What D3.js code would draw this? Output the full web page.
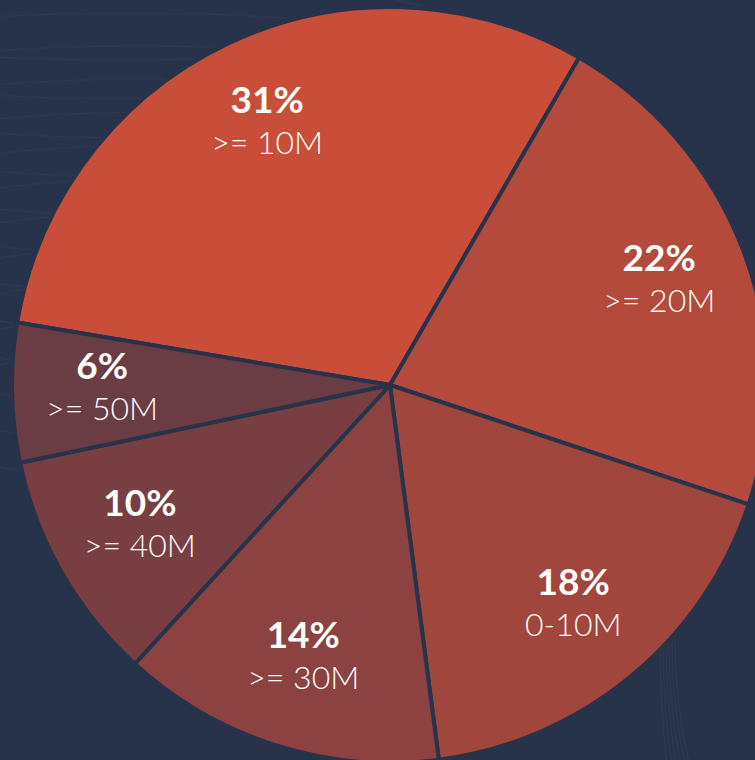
<!DOCTYPE html>
<html>
<head>
<meta charset="utf-8">
<script src="https://cdn.jsdelivr.net/npm/d3@7"></script>
<style>
    html, body { margin: 0; padding: 0; background: #27334a; }
    svg { display: block; }
    .pct { font-family: Lato, "Open Sans", sans-serif; font-weight: 700; fill: #fff; }
    .lbl { font-family: Lato, "Open Sans", sans-serif; font-weight: 300; fill: #fff; }
</style>
</head>
<body>
<div id="chart"></div>
<script>
'use strict';

// Data (clockwise from the top-left slice)
const categories = ['>= 10M', '>= 20M', '0-10M', '>= 30M', '>= 40M', '>= 50M'];
const shares = [31, 22, 18, 14, 10, 6];
const sliceColors = ['#c84e3a', '#b34a3c', '#a1463d', '#8b4240', '#793e42', '#6a3c44'];

// Layout
const W = 755, H = 760;
const cx = 390, cy = 385;
const r = 378;
const labelR = 288;

const svg = d3.select('#chart')
    .append('svg')
    .attr('width', W)
    .attr('height', H);

svg.append('rect')
    .attr('width', W)
    .attr('height', H)
    .attr('fill', '#27334a');

// Faint background curves
const deco = svg.append('g')
    .attr('fill', 'none')
    .attr('stroke', '#ffffff')
    .attr('stroke-opacity', 0.03)
    .attr('stroke-width', 1.5);
d3.range(12).forEach(i => {
    deco.append('ellipse')
        .attr('cx', 120 + i * 10)
        .attr('cy', 20 + i * 36)
        .attr('rx', 320)
        .attr('ry', 40 + i * 3);
});
d3.range(6).forEach(i => {
    deco.append('ellipse')
        .attr('cx', 720 + i * 15)
        .attr('cy', 640)
        .attr('rx', 60 + i * 12)
        .attr('ry', 260);
});

// Pie: boundary between first and second slice sits at 30deg
const total = d3.sum(shares);
const start = (30 / 180) * Math.PI - (shares[0] / total) * 2 * Math.PI;
const pie = d3.pie()
    .sort(null)
    .value(d => d.value)
    .startAngle(start)
    .endAngle(start + 2 * Math.PI);

const data = categories.map((c, i) => ({ cat: c, value: shares[i], color: sliceColors[i] }));
const arcs = pie(data);

const arc = d3.arc().innerRadius(0).outerRadius(r);
const labelArc = d3.arc().innerRadius(labelR).outerRadius(labelR);

const g = svg.append('g')
    .attr('transform', `translate(${cx},${cy})`);

g.selectAll('.slice')
    .data(arcs)
    .join('path')
    .attr('class', 'slice')
    .attr('d', arc)
    .attr('fill', d => d.data.color)
    .attr('stroke', '#27334a')
    .attr('stroke-width', 4)
    .attr('stroke-linejoin', 'round');

const labels = g.selectAll('.labelG')
    .data(arcs)
    .join('g')
    .attr('class', 'labelG')
    .attr('transform', d => `translate(${labelArc.centroid(d)})`);

labels.append('text')
    .attr('class', 'pct')
    .attr('text-anchor', 'middle')
    .attr('y', -12)
    .attr('font-size', 37)
    .text(d => `${d.data.value}%`);

labels.append('text')
    .attr('class', 'lbl')
    .attr('text-anchor', 'middle')
    .attr('y', 29)
    .attr('font-size', 32)
    .text(d => d.data.cat);
</script>
</body>
</html>
